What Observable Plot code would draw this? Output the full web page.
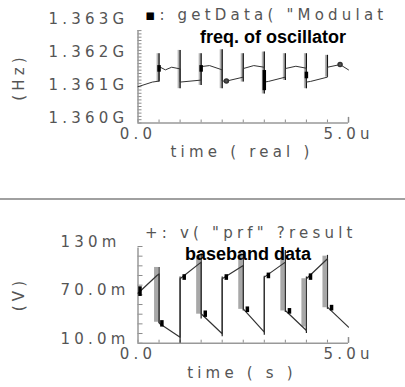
<!DOCTYPE html>
<html><head><meta charset="utf-8">
<script src="https://cdn.jsdelivr.net/npm/d3@7"></script>
<script src="https://cdn.jsdelivr.net/npm/@observablehq/plot@0.6"></script>
<style>
html,body{margin:0;padding:0;background:#fff}
#wrap{position:relative;width:405px;height:387px;overflow:hidden;background:#fff}
.lbl{position:absolute;font-family:"DejaVu Sans";font-size:15px;letter-spacing:4.2px;color:#555;white-space:pre;line-height:15px}
.bold{position:absolute;font-family:"Liberation Sans",Arial;font-weight:bold;font-size:18px;color:#000;white-space:pre;line-height:18px}
.rot{transform:translate(-50%,-50%) rotate(-90deg);transform-origin:center}
.ctr{transform:translateX(-50%)}
#sep{position:absolute;left:0;top:198px;width:405px;height:2px;background:#a0a0a0}
#top,#bot{position:absolute;left:0}
#top{top:0}#bot{top:199px}
</style></head><body>
<div id="wrap">
  <div id="top"></div>
  <div id="sep"></div>
  <div id="bot"></div>
  <div class="lbl" style="left:145px;top:8px"><span style="color:#000">▪</span>: getData( "Modulat</div>
  <div class="bold" style="left:200px;top:28px">freq. of oscillator</div>
  <div class="lbl rot" style="left:19px;top:77px">(Hz)</div>
  <div class="lbl ctr" style="left:242px;top:145px">time ( real )</div>
  <div class="lbl" style="left:145px;top:226px">+: v( "prf" ?result</div>
  <div class="bold" style="left:185px;top:245px">baseband data</div>
  <div class="lbl rot" style="left:19px;top:294px">(V)</div>
  <div class="lbl ctr" style="left:242px;top:366px">time ( s )</div>
</div>
<script>
// ---------- top panel: oscillator frequency (GHz) vs time (us) ----------
const freqTime = [0,0.34,0.5,0.5,0.65,0.8,1.0,1.0,1.5,1.5,1.7,2.0,2.0,2.1,2.5,2.5,2.75,3.0,3.0,3.1,3.5,3.5,3.75,4.0,4.0,4.1,4.5,4.5,4.8,5.0];
const freqVal  = [1.3611,1.36124,1.36127,1.36171,1.36161,1.36169,1.36164,1.36124,1.3613,1.36171,1.36174,1.36161,1.36127,1.36127,1.36139,1.36165,1.36174,1.36169,1.36124,1.36126,1.36139,1.36165,1.36172,1.36166,1.36124,1.36126,1.36139,1.36169,1.36177,1.36161];
const freqSpikeT  = [0.5,1.0,1.5,2.0,2.5,3.0,3.5,4.0,4.5];
const freqSpikeLo = [1.36124,1.36104,1.36114,1.36104,1.36124,1.36088,1.36129,1.36104,1.36139];
const freqSpikeHi = [1.3621,1.3622,1.3621,1.36222,1.3621,1.36215,1.3621,1.3621,1.36205];
const freqBlobT  = [0.5,1.5,3.0,4.0];
const freqBlobLo = [1.36154,1.36154,1.36098,1.36134];
const freqBlobHi = [1.36174,1.36174,1.36159,1.36154];
const freqMarkT = [2.1,4.8];
const freqMarkV = [1.36127,1.36177];
const freqTicks = [1.360,1.361,1.362,1.363];
const freqTickLabels = ["1.360G","1.361G","1.362G","1.363G"];

// ---------- bottom panel: baseband voltage (mV) vs time (us) ----------
const vTime = [0,0.45,0.5,0.5,0.52,1.0,1.0,1.5,1.5,2.0,2.0,2.5,2.5,3.0,3.0,3.5,3.5,4.0,4.0,4.5,4.5,5.0];
const vVal  = [72,94,96,36,34,17.5,90,110.6,46.5,21.7,90,106.5,52.7,23.7,92,110.6,50.6,25.8,90,114.8,54.7,29.9];
const vSpikeT  = [0.5,1.0,1.5,2.0,2.5,3.0,3.5,4.0,4.5];
const vSpikeLo = [34,10,40,18,50,20,48,22,52];
const vSpikeHi = [104,92,121,92,125,93,125,92,119];
const vShadeT  = [0.5,1.5,2.5,3.5,4.0,4.5];
const vShadeLo = [36,46,52,50,30,54];
const vShadeHi = [104,118,122,122,90,118];
const vBlobT  = [0.0,0.52,1.05,1.55,2.05,2.55,3.05,3.55,4.05,4.55];
const vBlobLo = [68,30,88,42,88,48,90,46,88,50];
const vBlobHi = [80,38,95,50,95,55,97,53,96,57];
const vTicks = [10,70,130];
const vTickLabels = ["10.0m","70.0m","130m"];

// shared time axis
const timeTicks = [0,5];
const timeTickLabels = ["0.0","5.0u"];
const timeMinor = d3.range(0, 5.0001, 0.5);

const fontStyle = "font-family:'DejaVu Sans';font-size:15px;letter-spacing:4.2px;color:#555;background:transparent;overflow:visible";

const idx = a => a.map((_, i) => i);

const topPlot = Plot.plot({
  width: 405, height: 198,
  marginLeft: 137.5, marginRight: 57, marginTop: 23.5, marginBottom: 75.5,
  style: fontStyle,
  x: {domain: [0, 5]},
  y: {domain: [1.360, 1.363]},
  marks: [
    Plot.axisY(freqTicks, {tickSize: 0, tickPadding: 89.5, textAnchor: "start", dy: -4.5, fill: "#555", tickFormat: (d, i) => freqTickLabels[i], label: null}),
    Plot.axisY(d3.range(1.360, 1.36281, 0.0001), {tickSize: -4, stroke: "#8c8c8c", tickFormat: () => "", label: null}),
    Plot.axisX(timeTicks, {tickSize: 0, tickPadding: 5, fill: "#555", tickFormat: (d, i) => timeTickLabels[i], label: null}),
    Plot.axisX(timeMinor, {tickSize: -3, stroke: "#8c8c8c", tickFormat: () => "", label: null}),
    Plot.ruleX([5], {y1: 1.360, y2: 1.36017, stroke: "#8c8c8c", strokeWidth: 1.5}),
    Plot.ruleX([0], {y1: 1.360, y2: 1.3628, stroke: "#999", strokeWidth: 1.5}),
    Plot.ruleY([1.360], {x1: 0, x2: 5, stroke: "#999", strokeWidth: 1.5}),
    Plot.ruleX(idx(freqSpikeT), {x: i => freqSpikeT[i], y1: i => freqSpikeLo[i], y2: i => freqSpikeHi[i], stroke: "#b4b4b4", strokeWidth: 3, dx: -1}),
    Plot.ruleX(idx(freqSpikeT), {x: i => freqSpikeT[i], y1: i => freqSpikeLo[i], y2: i => freqSpikeHi[i], stroke: "#111", strokeWidth: 1.2}),
    Plot.line(idx(freqTime), {x: i => freqTime[i], y: i => freqVal[i], stroke: "#333", strokeWidth: 1}),
    Plot.ruleX(idx(freqBlobT), {x: i => freqBlobT[i], y1: i => freqBlobLo[i], y2: i => freqBlobHi[i], stroke: "#000", strokeWidth: 3.5}),
    Plot.dot(idx(freqMarkT), {x: i => freqMarkT[i], y: i => freqMarkV[i], r: 2, fill: "#555", stroke: "#333"})
  ]
});
document.getElementById("top").append(topPlot);

const botPlot = Plot.plot({
  width: 405, height: 188,
  marginLeft: 137.5, marginRight: 57, marginTop: 47, marginBottom: 44.3,
  style: fontStyle,
  x: {domain: [0, 5]},
  y: {domain: [10, 130]},
  marks: [
    Plot.axisY(vTicks, {tickSize: 0, tickPadding: 77.5, textAnchor: "start", dy: -4.5, fill: "#555", tickFormat: (d, i) => vTickLabels[i], label: null}),
    Plot.axisY(d3.range(10, 130.1, 12), {tickSize: -5, stroke: "#8c8c8c", tickFormat: () => "", label: null}),
    Plot.axisX(timeTicks, {tickSize: 0, tickPadding: 5, fill: "#555", tickFormat: (d, i) => timeTickLabels[i], label: null}),
    Plot.axisX(timeMinor, {tickSize: -3, stroke: "#8c8c8c", tickFormat: () => "", label: null}),
    Plot.ruleX([5], {y1: 10, y2: 17, stroke: "#8c8c8c", strokeWidth: 1.5}),
    Plot.ruleX([0], {y1: 10, y2: 128, stroke: "#999", strokeWidth: 1.5}),
    Plot.ruleY([10], {x1: 0, x2: 5, stroke: "#999", strokeWidth: 1.5}),
    Plot.ruleX(idx(vShadeT), {x: i => vShadeT[i], y1: i => vShadeLo[i], y2: i => vShadeHi[i], stroke: "#a8a8a8", strokeWidth: 4, dx: -3}),
    Plot.ruleX(idx(vSpikeT), {x: i => vSpikeT[i], y1: i => vSpikeLo[i], y2: i => vSpikeHi[i], stroke: "#222", strokeWidth: 1.2}),
    Plot.line(idx(vTime), {x: i => vTime[i], y: i => vVal[i], stroke: "#333", strokeWidth: 1.2}),
    Plot.ruleX(idx(vBlobT), {x: i => vBlobT[i], y1: i => vBlobLo[i], y2: i => vBlobHi[i], stroke: "#000", strokeWidth: 3.5, dx: 2})
  ]
});
document.getElementById("bot").append(botPlot);
</script>
</body></html>
